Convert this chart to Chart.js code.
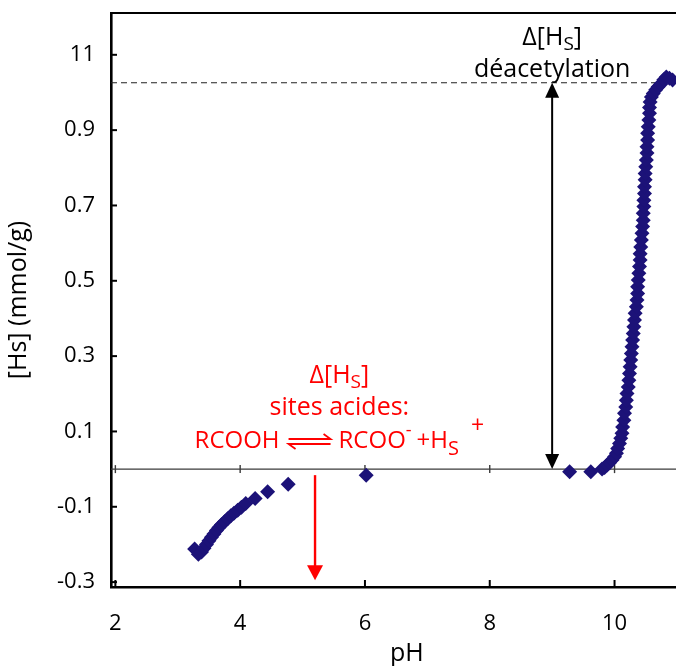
<!DOCTYPE html>
<html>
<head>
<meta charset="utf-8">
<script src="https://cdn.jsdelivr.net/npm/chart.js@4/dist/chart.umd.min.js"></script>
<style>
  html, body { margin: 0; padding: 0; background: #fff; }
</style>
</head>
<body>
<canvas id="chart" width="676" height="666"></canvas>
<script>
// acid side (pH 3 - 6)
const acidPH = [3.27, 3.33, 3.38, 3.42, 3.46, 3.50, 3.54, 3.58, 3.62, 3.66, 3.70, 3.75, 3.80, 3.85, 3.90, 3.96, 4.02, 4.09, 4.24, 4.44, 4.77, 6.02];
const acidHs = [-0.212, -0.226, -0.220, -0.210, -0.200, -0.190, -0.181, -0.172, -0.163, -0.155, -0.148, -0.140, -0.132, -0.124, -0.117, -0.109, -0.101, -0.091, -0.078, -0.060, -0.040, -0.016];

// basic side (deacetylation jump)
const basePH = [9.28, 9.62, 9.80, 9.84, 9.88, 9.92, 9.96, 10.00, 10.03, 10.05, 10.08, 10.10, 10.12, 10.13, 10.15, 10.16, 10.18, 10.19, 10.20, 10.22, 10.23, 10.24, 10.25, 10.26, 10.27, 10.28, 10.29, 10.30, 10.31, 10.32, 10.33, 10.35, 10.36, 10.37, 10.37, 10.38, 10.39, 10.40, 10.41, 10.41, 10.42, 10.43, 10.44, 10.45, 10.46, 10.46, 10.47, 10.47, 10.48, 10.48, 10.49, 10.49, 10.50, 10.51, 10.52, 10.52, 10.53, 10.53, 10.54, 10.55, 10.56, 10.56, 10.57, 10.59, 10.62, 10.66, 10.70, 10.74, 10.79, 10.83, 10.88, 10.93];
const baseHs = [-0.007, -0.007, 0.000, 0.004, 0.011, 0.017, 0.024, 0.033, 0.042, 0.055, 0.068, 0.082, 0.095, 0.112, 0.130, 0.148, 0.165, 0.183, 0.201, 0.218, 0.236, 0.254, 0.272, 0.290, 0.307, 0.325, 0.343, 0.360, 0.378, 0.396, 0.414, 0.431, 0.449, 0.466, 0.484, 0.502, 0.520, 0.538, 0.555, 0.572, 0.590, 0.608, 0.626, 0.644, 0.661, 0.679, 0.697, 0.714, 0.732, 0.750, 0.768, 0.785, 0.803, 0.821, 0.839, 0.856, 0.874, 0.892, 0.909, 0.927, 0.945, 0.960, 0.975, 0.988, 0.997, 1.007, 1.015, 1.022, 1.034, 1.041, 1.038, 1.033];

const xTicks = [2, 4, 6, 8, 10];
const yTicks = [-0.3, -0.1, 0.1, 0.3, 0.5, 0.7, 0.9, 1.1];
const yTickLabels = ['-0.3', '-0.1', '0.1', '0.3', '0.5', '0.7', '0.9', '11'];

const plateauHs = 1.026;   // level of the dashed line
const deacPH = 9.0;        // black double arrow
const acidArrowPH = 5.2;   // red arrow
const acidArrowFrom = -0.016;
const acidArrowTo = -0.295;

const FONT = '"Open Sans", "Noto Sans", sans-serif';
const NAVY = '#1c1278';
const RED = '#ff0000';

function toPoints(xs, ys) {
    return xs.map((x, i) => ({ x: x, y: ys[i] }));
}

function arrowHead(ctx, x, y, dir, len, half) {
    // dir = 1 points down, -1 points up
    ctx.beginPath();
    ctx.moveTo(x, y);
    ctx.lineTo(x - half, y - dir * len);
    ctx.lineTo(x + half, y - dir * len);
    ctx.closePath();
    ctx.fill();
}

// runs of text with sub / superscripts, centred on cx
function drawRuns(ctx, runs, cx, baseline, color) {
    let total = 0;
    runs.forEach(r => {
        if (r.harpoon) { r.w = r.harpoon; }
        else { ctx.font = r.size + 'px ' + FONT; r.w = ctx.measureText(r.t).width; }
        total += r.w + (r.gap || 0);
    });
    let x = cx - total / 2;
    ctx.fillStyle = color;
    ctx.strokeStyle = color;
    ctx.textAlign = 'left';
    ctx.textBaseline = 'alphabetic';
    runs.forEach(r => {
        x += r.gap || 0;
        if (r.harpoon) {
            const y1 = baseline - 9, y2 = baseline - 4;
            ctx.lineWidth = 1.8;
            ctx.beginPath();
            ctx.moveTo(x, y1); ctx.lineTo(x + r.w, y1); ctx.lineTo(x + r.w - 7, y1 - 5);
            ctx.moveTo(x + r.w, y2); ctx.lineTo(x, y2); ctx.lineTo(x + 7, y2 + 5);
            ctx.stroke();
        } else {
            ctx.font = r.size + 'px ' + FONT;
            ctx.fillText(r.t, x, baseline + (r.dy || 0));
        }
        x += r.w;
    });
}

const extras = {
    id: 'extras',
    beforeDatasetsDraw(chart) {
        const ctx = chart.ctx, xs = chart.scales.x, ys = chart.scales.y, a = chart.chartArea;
        ctx.save();
        // zero line
        const y0 = ys.getPixelForValue(0);
        ctx.strokeStyle = '#3a3a3a';
        ctx.lineWidth = 1.4;
        ctx.beginPath(); ctx.moveTo(a.left, y0); ctx.lineTo(a.right, y0); ctx.stroke();
        xTicks.forEach(v => {
            const px = xs.getPixelForValue(v);
            ctx.beginPath(); ctx.moveTo(px, y0 - 4); ctx.lineTo(px, y0 + 4); ctx.stroke();
        });
        // dashed plateau line
        const yp = ys.getPixelForValue(plateauHs);
        ctx.strokeStyle = '#222';
        ctx.lineWidth = 1.1;
        ctx.setLineDash([6, 4]);
        ctx.beginPath(); ctx.moveTo(a.left, yp); ctx.lineTo(a.right, yp); ctx.stroke();
        ctx.setLineDash([]);
        // top frame line
        ctx.strokeStyle = '#000';
        ctx.lineWidth = 2.2;
        ctx.beginPath(); ctx.moveTo(a.left, a.top); ctx.lineTo(a.right, a.top); ctx.stroke();
        // inner ticks
        ctx.lineWidth = 2;
        xTicks.forEach(v => {
            const px = xs.getPixelForValue(v);
            ctx.beginPath(); ctx.moveTo(px, a.bottom); ctx.lineTo(px, a.bottom - 7); ctx.stroke();
        });
        yTicks.forEach(v => {
            const py = ys.getPixelForValue(v);
            ctx.beginPath(); ctx.moveTo(a.left, py); ctx.lineTo(a.left + 6, py); ctx.stroke();
        });
        ctx.restore();
    },
    afterDatasetsDraw(chart) {
        const ctx = chart.ctx, xs = chart.scales.x, ys = chart.scales.y, a = chart.chartArea;
        ctx.save();
        // black double arrow
        const bx = xs.getPixelForValue(deacPH);
        const yTop = ys.getPixelForValue(plateauHs), yBot = ys.getPixelForValue(0);
        ctx.strokeStyle = '#000'; ctx.fillStyle = '#000'; ctx.lineWidth = 2;
        ctx.beginPath(); ctx.moveTo(bx, yTop + 10); ctx.lineTo(bx, yBot - 10); ctx.stroke();
        arrowHead(ctx, bx, yTop, -1, 15, 7);
        arrowHead(ctx, bx, yBot, 1, 15, 7);
        // red arrow
        const rx = xs.getPixelForValue(acidArrowPH);
        const r1 = ys.getPixelForValue(acidArrowFrom), r2 = ys.getPixelForValue(acidArrowTo);
        ctx.strokeStyle = RED; ctx.fillStyle = RED; ctx.lineWidth = 2.4;
        ctx.beginPath(); ctx.moveTo(rx, r1); ctx.lineTo(rx, r2 - 10); ctx.stroke();
        arrowHead(ctx, rx, r2, 1, 15, 8);

        // black labels
        drawRuns(ctx, [
            { t: 'Δ[H', size: 25 }, { t: 'S', size: 19, dy: 5 }, { t: ']', size: 25 }
        ], bx, ys.getPixelForValue(1.126), '#000');
        drawRuns(ctx, [{ t: 'déacetylation', size: 25 }], bx, ys.getPixelForValue(1.041), '#000');

        // red labels
        const cx = xs.getPixelForValue(5.59);
        drawRuns(ctx, [
            { t: 'Δ[H', size: 25 }, { t: 'S', size: 19, dy: 5 }, { t: ']', size: 25 }
        ], cx, ys.getPixelForValue(0.228), RED);
        drawRuns(ctx, [{ t: 'sites acides:', size: 25 }], cx, ys.getPixelForValue(0.143), RED);
        drawRuns(ctx, [
            { t: 'RCOOH', size: 24 },
            { harpoon: 42, gap: 9 },
            { t: 'RCOO', size: 24, gap: 8 },
            { t: '-', size: 18, dy: -12 },
            { t: '+H', size: 24, gap: 5 },
            { t: 'S', size: 20, dy: 7 },
            { t: '+', size: 23, dy: -15, gap: 12 }
        ], cx, ys.getPixelForValue(0.056), RED);

        // x title
        ctx.fillStyle = '#000';
        ctx.font = '25px ' + FONT;
        ctx.textAlign = 'center';
        ctx.textBaseline = 'alphabetic';
        ctx.fillText('pH', xs.getPixelForValue(6.67), a.bottom + 74);
        ctx.restore();
    }
};

new Chart(document.getElementById('chart'), {
    type: 'scatter',
    data: {
        datasets: [
            { data: toPoints(acidPH, acidHs) },
            { data: toPoints(basePH, baseHs) }
        ]
    },
    options: {
        responsive: false,
        animation: false,
        layout: { autoPadding: false, padding: { top: 13, right: 0, left: 0, bottom: 0 } },
        plugins: { legend: { display: false }, tooltip: { enabled: false } },
        elements: {
            point: { pointStyle: 'rectRot', radius: 7.5, backgroundColor: NAVY, borderColor: NAVY, borderWidth: 0 }
        },
        scales: {
            x: {
                type: 'linear', min: 1.93, max: 10.985,
                afterBuildTicks: s => { s.ticks = xTicks.map(v => ({ value: v })); },
                afterFit: s => { s.height = 79; s.paddingLeft = 0; s.paddingRight = 0; },
                grid: { drawOnChartArea: false, drawTicks: false },
                border: { display: true, color: '#000', width: 2.6 },
                ticks: { color: '#000', font: { family: FONT, size: 22 }, padding: 24, maxRotation: 0 }
            },
            y: {
                type: 'linear', min: -0.313, max: 1.211,
                afterBuildTicks: s => { s.ticks = yTicks.map(v => ({ value: v })); },
                afterFit: s => { s.width = 111; s.paddingTop = 0; s.paddingBottom = 0; },
                grid: { drawOnChartArea: false, drawTicks: false },
                border: { display: true, color: '#000', width: 2.6 },
                ticks: {
                    color: '#000', font: { family: FONT, size: 22 }, padding: 16,
                    callback: (v) => {
                        const i = yTicks.findIndex(t => Math.abs(t - v) < 1e-6);
                        return i >= 0 ? yTickLabels[i] : '';
                    }
                },
                title: { display: true, text: '[Hs] (mmol/g)', color: '#000', font: { family: FONT, size: 25 }, padding: { top: 4, bottom: 0 } }
            }
        }
    },
    plugins: [extras]
});
</script>
</body>
</html>
